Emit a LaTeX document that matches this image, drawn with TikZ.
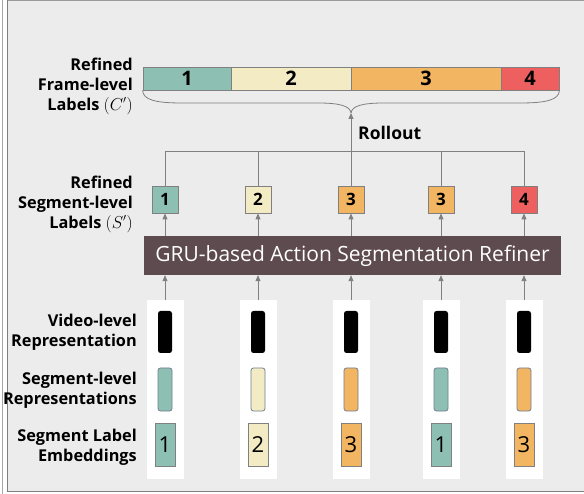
\documentclass[tikz,border=0pt]{standalone}
\usepackage{fontspec}
\setmainfont{Open Sans}
\usetikzlibrary{arrows.meta}
\definecolor{tealc}{RGB}{142,191,179}
\definecolor{creamc}{RGB}{242,235,196}
\definecolor{orangec}{RGB}{242,181,98}
\definecolor{redc}{RGB}{238,95,95}
\definecolor{gruc}{RGB}{94,75,80}
\definecolor{bgc}{RGB}{236,236,236}
\definecolor{edgec}{RGB}{128,128,128}
\definecolor{repc}{RGB}{112,126,146}

\begin{document}
\begin{tikzpicture}[x=1pt,y=-1pt,
    lbl/.style={font=\fontsize{16.3}{20}\selectfont\bfseries, align=right, anchor=east, inner sep=0},
    arr/.style={draw=edgec, line width=0.8pt, -{Triangle[length=6pt,width=5pt]}},
    wire/.style={draw=edgec, line width=0.8pt}]

  \useasboundingbox (0,0) rectangle (584,494);
  \fill[white] (0,0) rectangle (584,494);
  \fill[bgc] (7,1) rectangle (584,491);
  \draw[edgec!70, line width=0.8pt] (2,0) -- (2,494);
  \draw[edgec!80, line width=1.5pt] (7,0.75) -- (584,0.75);
  \draw[edgec, line width=1pt] (7,0) -- (7,491) -- (584,491);

  \begin{scope}[every node/.style={draw=edgec, line width=0.8pt, minimum height=23pt, inner sep=0,
      font=\fontsize{20}{20}\selectfont\bfseries}]
    \node[fill=tealc,   minimum width=88pt]  (f1) at (187,78.5) {1};
    \node[fill=creamc,  minimum width=120pt] (f2) at (291,78.5) {2};
    \node[fill=orangec, minimum width=150pt] (f3) at (426,78.5) {3};
    \node[fill=redc,    minimum width=58pt]  (f4) at (530,78.5) {4};
  \end{scope}

  \coordinate (tip) at (351,113);
  \coordinate (r)   at (351,151);
  \draw[wire] (f1.south west) .. controls (143,100) and (156,103) .. (182,103)
    -- (318,103) .. controls (340,103) and (350,106) .. (tip);
  \draw[wire] (f4.south east) .. controls (559,100) and (546,103) .. (520,103)
    -- (384,103) .. controls (362,103) and (352,106) .. (tip);
  \draw[arr] (r) -- (tip);
  \node[font=\fontsize{17.5}{20}\selectfont\bfseries, anchor=west, inner sep=0] (ro) at (358,133) {Rollout};

  \begin{scope}[every node/.style={draw=edgec, line width=0.8pt, minimum width=26pt, minimum height=27pt,
      inner sep=0, font=\fontsize{17}{17}\selectfont\bfseries}]
    \node[fill=tealc]   (s1) at (165,199.5) {1};
    \node[fill=creamc]  (s2) at (258,199.5) {2};
    \node[fill=orangec] (s3) at (351,199.5) {3};
    \node[fill=orangec] (s4) at (441,199.5) {3};
    \node[fill=redc]    (s5) at (524,199.5) {4};
  \end{scope}

  \draw[wire] (s1) -- (s1 |- r) -- (s5 |- r) -- (s5);
  \draw[wire] (s2) -- (s2 |- r);
  \draw[wire] (s3) -- (r);
  \draw[wire] (s4) -- (s4 |- r);

  \node[fill=gruc, text=white, minimum width=417pt, minimum height=39pt, inner sep=0,
    font=\fontsize{21}{21}\selectfont] (g) at (352.5,255.5) {GRU-based Action Segmentation Refiner};

  \draw[arr] (s1 |- g.north) -- (s1);
  \draw[arr] (s2 |- g.north) -- (s2);
  \draw[arr] (s3 |- g.north) -- (s3);
  \draw[arr] (s4 |- g.north) -- (s4);
  \draw[arr] (s5 |- g.north) -- (s5);

  \begin{scope}[every node/.style={fill=white, minimum width=37pt, minimum height=179pt, inner sep=0}]
    \node (c1) at (165,389.5) {};
    \node (c2) at (258,389.5) {};
    \node (c3) at (351,389.5) {};
    \node (c4) at (441,389.5) {};
    \node (c5) at (524,389.5) {};
  \end{scope}

  \draw[arr] (c1) -- (c1 |- g.south);
  \draw[arr] (c2) -- (c2 |- g.south);
  \draw[arr] (c3) -- (c3 |- g.south);
  \draw[arr] (c4) -- (c4 |- g.south);
  \draw[arr] (c5) -- (c5 |- g.south);

  \begin{scope}[every node/.style={fill=black, rounded corners=2.5pt, minimum width=14pt, minimum height=42pt, inner sep=0}]
    \node (v1) at (165,332) {};
    \node (v2) at (258,332) {};
    \node (v3) at (351,332) {};
    \node (v4) at (441,332) {};
    \node (v5) at (524,332) {};
  \end{scope}

  \begin{scope}[every node/.style={draw=repc, line width=0.8pt, rounded corners=2.5pt, minimum width=14pt,
      minimum height=43pt, inner sep=0}]
    \node[fill=tealc]   (p1) at (165,389.5) {};
    \node[fill=creamc]  (p2) at (258,389.5) {};
    \node[fill=orangec] (p3) at (351,389.5) {};
    \node[fill=tealc]   (p4) at (441,389.5) {};
    \node[fill=orangec] (p5) at (524,389.5) {};
  \end{scope}

  \begin{scope}[every node/.style={draw=edgec, line width=0.8pt, minimum width=20pt, minimum height=43pt,
      inner sep=0, font=\fontsize{22}{22}\selectfont}]
    \node[fill=tealc]   (e1) at (165,444.5) {1};
    \node[fill=creamc]  (e2) at (258,444.5) {2};
    \node[fill=orangec] (e3) at (351,444.5) {3};
    \node[fill=tealc]   (e4) at (441,444.5) {1};
    \node[fill=orangec] (e5) at (524,444.5) {3};
  \end{scope}

  \node[lbl] (lf) at (133,86)  {Refined\\Frame-level\\Labels $(C')$};
  \node[lbl] (ls) at (133,204) {Refined\\Segment-level\\Labels $(S')$};
  \node[lbl] (lv) at (137,332) {Video-level\\Representation};
  \node[lbl] (lp) at (137,390) {Segment-level\\Representations};
  \node[lbl] (le) at (137,447) {Segment Label\\Embeddings};

\end{tikzpicture}
\end{document}
